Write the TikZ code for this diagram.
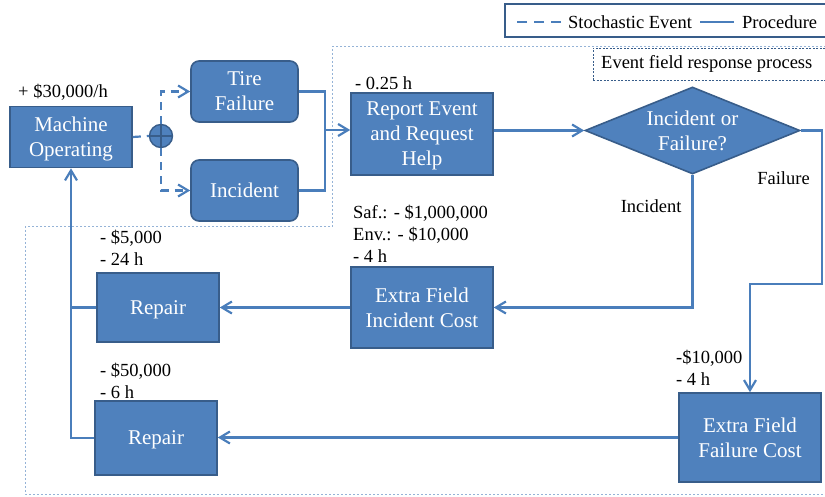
\documentclass[tikz,border=0pt]{standalone}
\usepackage{fontspec}
\setmainfont{Liberation Serif}
\usetikzlibrary{arrows.meta,positioning,shapes.geometric}
\definecolor{procblue}{RGB}{79,129,189}
\definecolor{procedge}{RGB}{56,93,138}
\definecolor{linkblue}{RGB}{74,126,187}
\definecolor{zoneblue}{RGB}{149,179,215}

\begin{document}
\begin{tikzpicture}[x=1pt,y=-1pt,
  box/.style={draw=procedge,line width=1.6pt,fill=procblue,text=white,align=center,
              font=\fontsize{21}{25}\selectfont,inner sep=2pt,text depth=-3pt},
  eventbox/.style={box,rounded corners=8pt},
  decision/.style={box,diamond,aspect=2.44,minimum width=215pt,minimum height=87pt,
                   inner sep=0pt,text depth=},
  note/.style={font=\fontsize{18.5}{22}\selectfont,align=left,inner sep=0pt},
  link/.style={draw=linkblue,line width=2.2pt},
  chance/.style={link,dash pattern=on 8pt off 6pt},
  arrow/.style={-{Straight Barb[length=10pt,width=12pt]}},
  zone/.style={draw=zoneblue,line width=1pt,dash pattern=on 2pt off 2pt}
]
\useasboundingbox (0,0) rectangle (825,497);

% Legend and process frame.
\node[draw=procedge,line width=2pt,minimum width=321pt,minimum height=33pt] (legend)
  at (665,20.5) {};
\node[note,anchor=west] (stochtext) at (568,22) {Stochastic Event};
\node[note,anchor=west] (proctext) at (742,22) {Procedure};
\draw[chance,dash pattern=on 10pt off 7pt] ([xshift=-7pt]stochtext.west) -- ++(-48,0);
\draw[link] ([xshift=-8pt]proctext.west) -- ++(-34,0);
\draw[zone] (826,47) -- (332,47) -- (332,227) -- (25,227) -- (25,494) -- (826,494);
\node[draw=procedge,line width=0.8pt,dash pattern=on 2pt off 1.5pt,minimum width=240pt,
      minimum height=32pt] (fieldbox) at (713,64) {};
\node[note,anchor=west] (fieldtext) at (601,64) {Event field response process};

% Operation and stochastic events.
\node[box,minimum width=122pt,minimum height=61pt] (machine) at (71,137)
  {Machine\\Operating};
\node[note,anchor=north west] (opgain) at (18,84) {+ \$30,000/h};
\node[circle,draw=procedge,line width=1.4pt,fill=procblue,minimum size=23pt,
      inner sep=0pt] (junction) at (161,136) {};
\draw[procedge,line width=1.3pt] (junction.north) -- (junction.south)
  (junction.west) -- (junction.east);
\node[eventbox,minimum width=107pt,minimum height=61pt] (tire) at (244.5,91.5)
  {Tire\\Failure};
\node[eventbox,minimum width=107pt,minimum height=61pt] (incident) at (244.5,190.5)
  {Incident};

% Field response.
\node[box,minimum width=142pt,minimum height=82pt] (report) at (422,134)
  {Report Event\\and Request\\Help};
\node[note,anchor=north west] (reporttime) at (355,76) {- 0.25 h};
\node[decision] (decide) at (692.5,130.5) {Incident or\\Failure?};
\node[box,minimum width=142pt,minimum height=81pt] (inccost) at (422,307.5)
  {Extra Field\\Incident Cost};
\node[note,anchor=north west] (inccostnote) at (353,205)
  {Saf.: - \$1,000,000\\Env.: - \$10,000\\- 4 h};
\node[box,minimum width=142pt,minimum height=89pt] (failcost) at (750,437.5)
  {Extra Field\\Failure Cost};
\node[note,anchor=north west] (failcostnote) at (676,350) {-\$10,000\\- 4 h};
\node[box,minimum width=122pt,minimum height=69pt] (repairinc) at (158,307.5) {Repair};
\node[note,anchor=north west] (repairincnote) at (100,230) {- \$5,000\\- 24 h};
\node[box,minimum width=122pt,minimum height=74pt] (repairfail) at (156,438) {Repair};
\node[note,anchor=north west] (repairfailnote) at (100,363) {- \$50,000\\- 6 h};

% Connectors.
\coordinate (merge) at (325,130);
\draw[chance] (machine.east) -- (junction.west);
\draw[chance,arrow] (junction.north) |- (tire.west);
\draw[chance,arrow] (junction.south) |- (incident.west);
\draw[link] (tire.east) -| (merge);
\draw[link] (incident.east) -| (merge);
\draw[link,arrow] (merge) -- (merge -| report.west);
\draw[link,arrow] (decide.west -| report.east) -- (decide.west);
\draw[link,arrow] (decide.south) |- node[pos=0.12,left=10pt,note] {Incident} (inccost.east);
\draw[link,arrow] (decide.east) -- ++(21,0)
  -- node[pos=0.31,left=11pt,note] {Failure} ++(0,153.5) -| (failcost.north);
\draw[link,arrow] (inccost.west) -- (repairinc.east);
\draw[link,arrow] (failcost.west) -- (failcost.west -| repairfail.east);
\draw[link,arrow] (repairfail.west) -| (machine.south);
\draw[link] (repairinc.west) -- (repairinc.west -| machine.south);
\end{tikzpicture}
\end{document}
